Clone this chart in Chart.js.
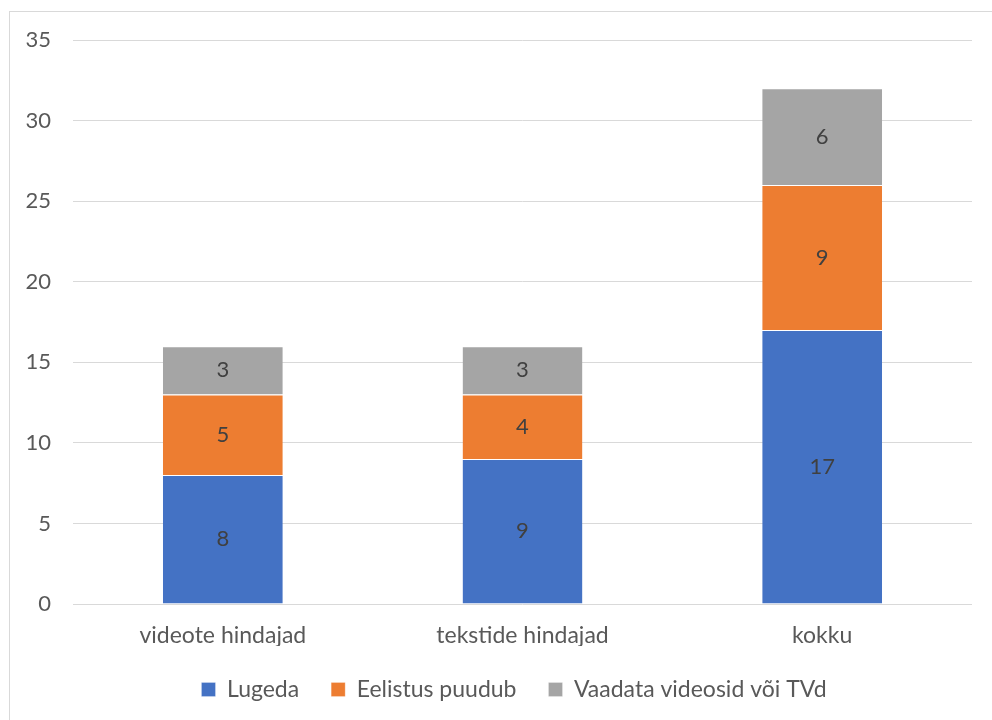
<!DOCTYPE html>
<html><head><meta charset="utf-8">
<script src="https://cdn.jsdelivr.net/npm/chart.js@4"></script>
<style>html,body{margin:0;padding:0;background:#fff;}#wrap{width:992px;height:720px;position:relative;}</style>
</head><body><div id="wrap"><canvas id="c" width="992" height="720"></canvas></div>
<script>
const categories = ["videote hindajad", "tekstide hindajad", "kokku"];
const seriesNames = ["Lugeda", "Eelistus puudub", "Vaadata videosid või TVd"];
const lugeda = [8, 9, 17];
const eelistus = [5, 4, 9];
const vaadata = [3, 3, 6];
const yTicks = [0, 5, 10, 15, 20, 25, 30, 35];

const colors = ["#4472C4", "#ED7D31", "#A5A5A5"];
const FONT = "Lato, 'Open Sans', sans-serif";
const FS = 23;

const borderPlugin = {
  id: 'frame',
  beforeDraw(chart) {
    const ctx = chart.ctx;
    ctx.save();
    ctx.fillStyle = '#fff';
    ctx.fillRect(0, 0, chart.width, chart.height);
    ctx.strokeStyle = '#D9D9D9';
    ctx.lineWidth = 1;
    ctx.strokeRect(9.5, 11.5, 1000, 720);
    ctx.restore();
  },
  afterLayout(chart) {
    if (chart.legend) { chart.legend.left += 28; chart.legend.right += 28; }
  }
};
const labelPlugin = {
  id: 'vals',
  afterDatasetsDraw(chart) {
    const ctx = chart.ctx;
    ctx.save();
    ctx.font = "22px " + FONT;
    ctx.fillStyle = '#404040';
    ctx.textAlign = 'center';
    ctx.textBaseline = 'middle';
    chart.data.datasets.forEach((ds, i) => {
      const meta = chart.getDatasetMeta(i);
      meta.data.forEach((bar, j) => {
        const y = (bar.y + bar.base) / 2;
        ctx.fillText(String(ds.data[j]), bar.x, y);
      });
    });
    ctx.restore();
  }
};

new Chart(document.getElementById('c'), {
  type: 'bar',
  data: {
    labels: categories,
    datasets: [
      {label: seriesNames[0], data: lugeda, backgroundColor: colors[0]},
      {label: seriesNames[1], data: eelistus, backgroundColor: colors[1]},
      {label: seriesNames[2], data: vaadata, backgroundColor: colors[2]}
    ].map(d => Object.assign(d, {borderColor: '#ffffff', borderWidth: {top: 1}, borderSkipped: 'bottom', categoryPercentage: 1, barPercentage: 0.4}))
  },
  options: {
    responsive: false,
    animation: false,
    devicePixelRatio: 1,
    layout: {padding: {left: 0, right: 20, top: 40, bottom: 9}},
    plugins: {
      legend: {
        position: 'bottom',
        labels: {font: {size: FS, family: FONT}, color: '#595959', boxWidth: 14, boxHeight: 14, padding: 32, useBorderRadius: false},
      },
      tooltip: {enabled: false}
    },
    scales: {
      x: {
        stacked: true,
        grid: {display: false, drawTicks: false},
        border: {display: false},
        ticks: {font: {size: FS, family: FONT}, color: '#595959', padding: 18},
        afterFit(s) { s.height = 42; }
      },
      y: {
        stacked: true,
        min: 0, max: 35,
        afterBuildTicks(s) { s.ticks = yTicks.map(v => ({value: v})); },
        grid: {color: '#D9D9D9', lineWidth: 1, drawTicks: false},
        border: {display: false},
        ticks: {font: {size: 22, family: FONT}, color: '#595959', padding: 22},
        afterFit(s) { s.width = 73; }
      }
    }
  },
  plugins: [borderPlugin, labelPlugin]
});
</script></body></html>
